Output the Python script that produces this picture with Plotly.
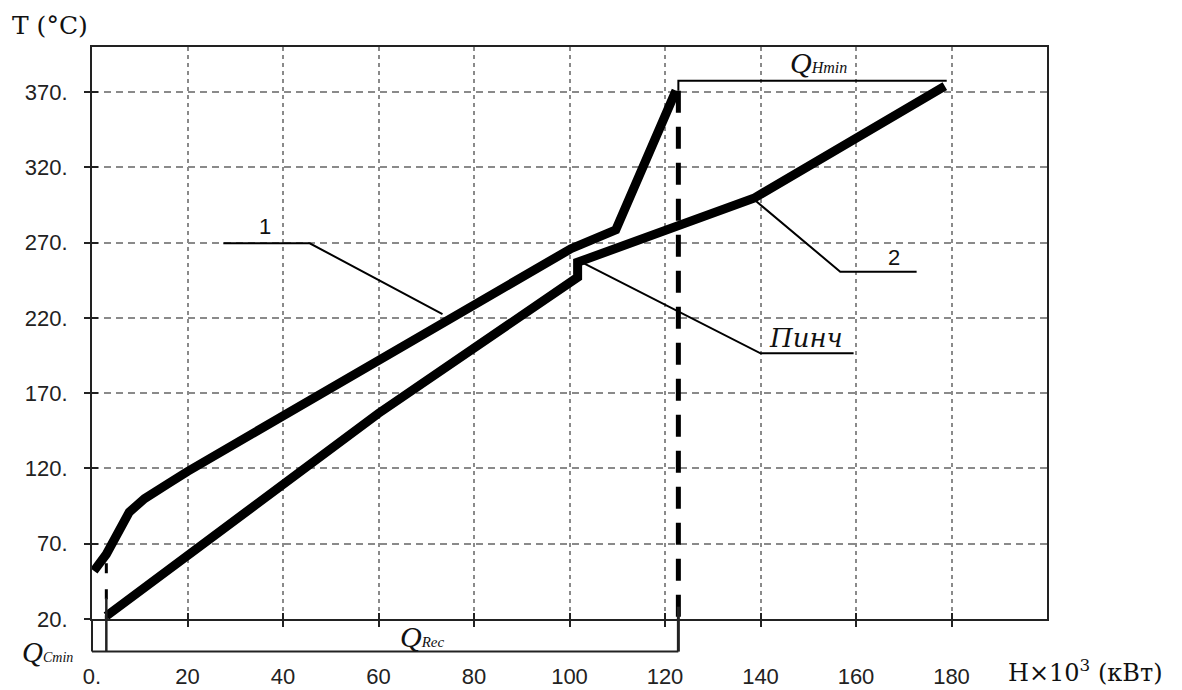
import plotly.graph_objects as go

# ---- data ----
# Curve 1 (upper-left composite curve)
curve1_H = [0.4, 3.0, 7.8, 11.0, 16.0, 20.0, 65.0, 100.3, 109.7, 122.3]
curve1_T = [52.0, 63.0, 91.0, 100.0, 110.0, 118.0, 201.0, 266.0, 278.5, 371.0]
# Curve 2 (lower-left composite curve)
curve2_H = [3.0, 60.0, 101.7, 101.7, 138.6, 178.6]
curve2_T = [22.0, 156.6, 247.0, 257.0, 299.5, 374.0]

# Energy targets (H x 10^3 kW)
q_cmin_end = 3.0
q_rec_end = 122.8
q_hmin_end = 179.0
q_hmin_T = 377.5
t_min = 20.0

# Leader lines of the labels
leader1_H = [27.5, 45.6, 73.4]
leader1_T = [269.6, 269.6, 222.6]
leader2_H = [138.8, 156.7, 172.7]
leader2_T = [298.3, 250.7, 250.7]
pinch_H = [102.4, 140.0, 159.5]
pinch_T = [257.3, 196.5, 196.5]

# Axis ticks
x_ticks = [0, 20, 40, 60, 80, 100, 120, 140, 160, 180]
x_ticktext = ["0.", "20", "40", "60", "80", "100", "120", "140", "160", "180"]
y_ticks = [20, 70, 120, 170, 220, 270, 320, 370]
y_ticktext = ["20.", "70.", "120.", "170.", "220.", "270.", "320.", "370."]

fig = go.Figure()

thick = dict(color="black", width=9)
thin = dict(color="black", width=2)

fig.add_trace(go.Scatter(x=curve1_H, y=curve1_T, mode="lines", line=thick,
                         hoverinfo="skip"))
fig.add_trace(go.Scatter(x=curve2_H, y=curve2_T, mode="lines", line=thick,
                         hoverinfo="skip"))

# dashed vertical at Q_rec end
fig.add_trace(go.Scatter(x=[q_rec_end, q_rec_end], y=[curve1_T[-1], t_min],
                         mode="lines",
                         line=dict(color="black", width=5, dash="22px,14px"),
                         hoverinfo="skip"))
# dashed vertical at Q_Cmin
fig.add_trace(go.Scatter(x=[q_cmin_end, q_cmin_end], y=[curve1_T[1] - 6, t_min],
                         mode="lines",
                         line=dict(color="black", width=3, dash="10px,16px"),
                         hoverinfo="skip"))
# Q_Hmin bracket
fig.add_trace(go.Scatter(x=[q_rec_end, q_rec_end, q_hmin_end],
                         y=[curve1_T[-1], q_hmin_T, q_hmin_T],
                         mode="lines", line=thin, hoverinfo="skip"))

# leader lines
for lx, ly in [(leader1_H, leader1_T), (leader2_H, leader2_T), (pinch_H, pinch_T)]:
    fig.add_trace(go.Scatter(x=lx, y=ly, mode="lines", line=thin, hoverinfo="skip"))

# invisible trace for overlay axis (inside ticks)
fig.add_trace(go.Scatter(x=[0], y=[t_min], xaxis="x2", yaxis="y2", mode="markers",
                         marker=dict(opacity=0), hoverinfo="skip"))

# Q_Rec / Q_Cmin bracket below the axis
ybr = -0.057
shapes = [
    dict(type="line", xref="paper", yref="paper", x0=0, x1=0, y0=0, y1=ybr,
         line=dict(color="#222", width=2)),
    dict(type="line", xref="x", yref="paper", x0=0, x1=q_rec_end, y0=ybr, y1=ybr,
         line=dict(color="#222", width=2)),
    dict(type="line", xref="x", yref="paper", x0=q_cmin_end, x1=q_cmin_end,
         y0=0.037, y1=ybr, line=dict(color="#222", width=2.5)),
    dict(type="line", xref="x", yref="paper", x0=q_rec_end, x1=q_rec_end,
         y0=0.0215, y1=ybr, line=dict(color="#222", width=3)),
]

serif = "Liberation Serif"
wserif = "DejaVu Serif"
sans = "Liberation Sans"


def qlabel(sub, size):
    return ("<i>Q<span style=\"font-size:%dpx\">" % size) + sub + "</span></i>"


annotations = [
    dict(text="T (°C)", xref="paper", yref="paper", x=-0.086, y=1.038,
         xanchor="left", yanchor="middle", showarrow=False,
         font=dict(family=wserif, size=25, color="#111")),
    dict(text="H×10<sup>3</sup> (кВт)", xref="paper", yref="paper", x=0.957, y=-0.091,
         xanchor="left", yanchor="middle", showarrow=False,
         font=dict(family=wserif, size=24, color="#111")),
    dict(text=qlabel("Cmin", 14), xref="paper", yref="paper", x=-0.047, y=-0.058,
         xanchor="center", yanchor="middle", showarrow=False,
         font=dict(family=serif, size=29, color="#111")),
    dict(text=qlabel("Rec", 15), xref="x", yref="paper", x=69.2, y=-0.03,
         xanchor="center", yanchor="middle", showarrow=False,
         font=dict(family=serif, size=30, color="#111")),
    dict(text=qlabel("Hmin", 16), xref="x", yref="y", x=152.2, y=389.5,
         xanchor="center", yanchor="middle", showarrow=False,
         font=dict(family=serif, size=30, color="#111")),
    dict(text="1", xref="x", yref="y", x=36.2, y=280.5, showarrow=False,
         font=dict(family=sans, size=22, color="#111")),
    dict(text="2", xref="x", yref="y", x=167.9, y=260.0, showarrow=False,
         font=dict(family=sans, size=22, color="#111")),
    dict(text="<i>Пинч</i>", xref="x", yref="y", x=149.5, y=207.0, showarrow=False,
         font=dict(family=wserif, size=26, color="#111")),
]

fig.update_layout(
    width=1182, height=690,
    margin=dict(l=92, r=135, t=47, b=71),
    paper_bgcolor="white", plot_bgcolor="white",
    showlegend=False,
    shapes=shapes,
    annotations=annotations,
    xaxis=dict(range=[0, 200], tickvals=x_ticks, ticktext=x_ticktext,
               showgrid=True, gridcolor="#8a8a8a", gridwidth=1.5, griddash="4px,4px",
               showline=True, mirror=True, linecolor="#222", linewidth=2,
               ticks="outside", ticklen=6, tickwidth=2, tickcolor="#222",
               ticklabelstandoff=31, zeroline=False, automargin=False,
               tickfont=dict(family=sans, size=22, color="#222")),
    yaxis=dict(range=[20, 400], tickvals=y_ticks, ticktext=y_ticktext,
               showgrid=True, gridcolor="#8a8a8a", gridwidth=1.5, griddash="7px,5px",
               showline=True, mirror=True, linecolor="#222", linewidth=2,
               ticks="outside", ticklen=6, tickwidth=2, tickcolor="#222",
               ticklabelstandoff=12, zeroline=False, automargin=False,
               tickfont=dict(family=sans, size=22, color="#222")),
    xaxis2=dict(range=[0, 200], overlaying="x", side="bottom", anchor="y2",
                tickvals=x_ticks, ticks="inside", ticklen=6, tickwidth=2,
                tickcolor="#222", showticklabels=False, showgrid=False,
                zeroline=False, showline=False),
    yaxis2=dict(range=[20, 400], overlaying="y", side="left", anchor="x2",
                tickvals=y_ticks, ticks="inside", ticklen=6, tickwidth=2,
                tickcolor="#222", showticklabels=False, showgrid=False,
                zeroline=False, showline=False),
)

fig.write_html("out.html",
               config={"displayModeBar": False},
               post_script="document.body.style.margin='0';"
                           "document.body.style.overflow='hidden';")
